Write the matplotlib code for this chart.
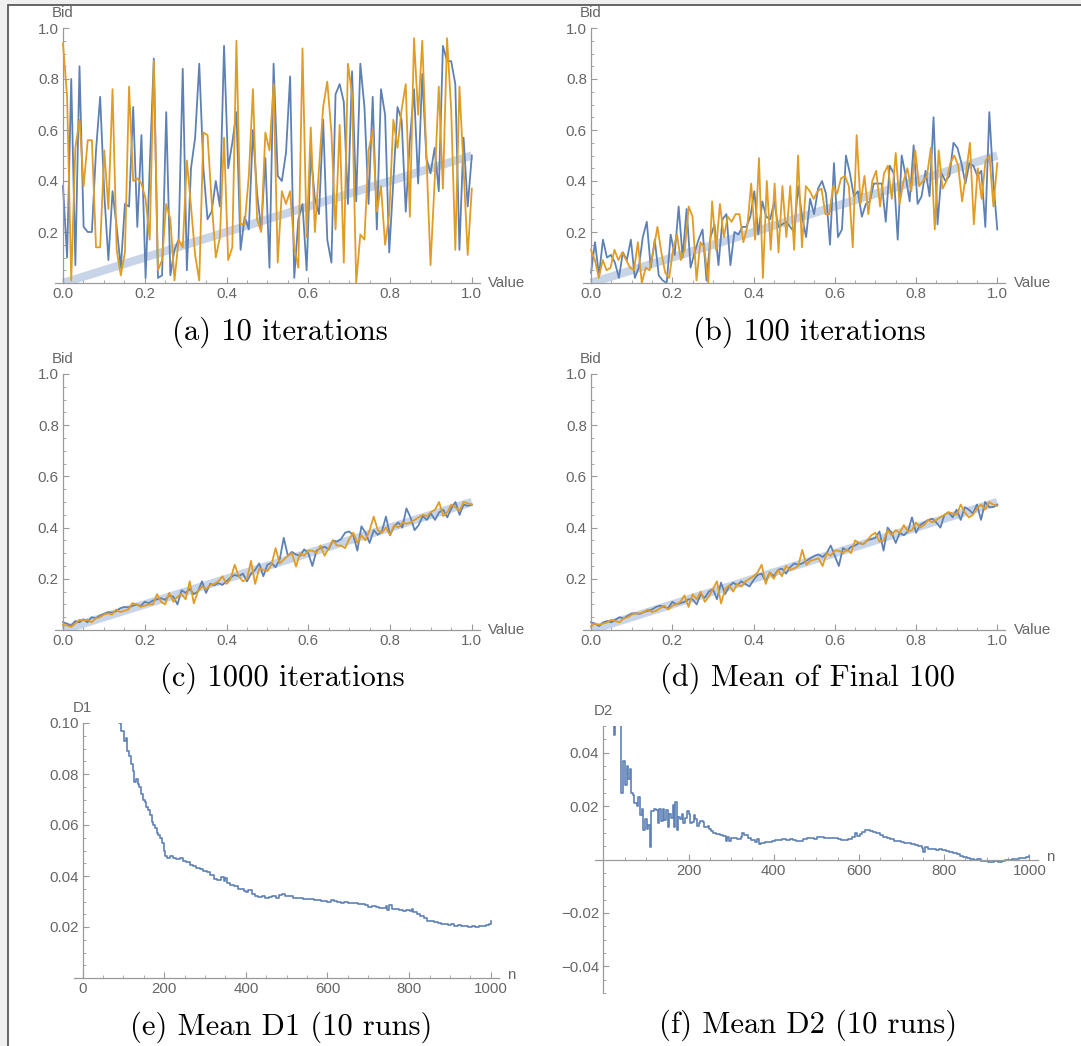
import numpy as np
import matplotlib
matplotlib.use('Agg')
import matplotlib.pyplot as plt
from matplotlib.patches import Rectangle
from matplotlib.ticker import MultipleLocator

# ---------------- data ----------------
# (a) 10 iterations
a_blue = [0.38, 0.10, 0.80, 0.07, 0.85, 0.22, 0.20, 0.20, 0.52, 0.73,
          0.35, 0.09, 0.36, 0.22, 0.06, 0.31, 0.30, 0.69, 0.22, 0.58,
          0.02, 0.45, 0.88, 0.02, 0.03, 0.67, 0.03, 0.13, 0.17, 0.84,
          0.05, 0.45, 0.57, 0.86, 0.45, 0.25, 0.28, 0.40, 0.30, 0.93,
          0.45, 0.55, 0.67, 0.13, 0.26, 0.21, 0.60, 0.35, 0.21, 0.49,
          0.06, 0.86, 0.42, 0.40, 0.51, 0.81, 0.02, 0.25, 0.31, 0.05,
          0.51, 0.33, 0.27, 0.64, 0.17, 0.08, 0.74, 0.78, 0.71, 0.31,
          0.83, 0.32, 0.86, 0.69, 0.31, 0.73, 0.21, 0.76, 0.66, 0.12,
          0.40, 0.69, 0.64, 0.28, 0.56, 0.76, 0.39, 0.82, 0.49, 0.43,
          0.53, 0.36, 0.93, 0.87, 0.87, 0.78, 0.13, 0.57, 0.30, 0.50]
a_orange = [0.94, 0.73, 0.01, 0.53, 0.64, 0.38, 0.56, 0.56, 0.14, 0.14,
            0.52, 0.29, 0.76, 0.13, 0.03, 0.12, 0.77, 0.40, 0.41, 0.39,
            0.33, 0.17, 0.87, 0.05, 0.09, 0.31, 0.25, 0.01, 0.17, 0.14,
            0.48, 0.30, 0.11, 0.01, 0.59, 0.58, 0.32, 0.10, 0.18, 0.57,
            0.09, 0.14, 0.95, 0.23, 0.23, 0.42, 0.76, 0.25, 0.20, 0.59,
            0.52, 0.78, 0.08, 0.36, 0.31, 0.36, 0.14, 0.06, 0.92, 0.18,
            0.61, 0.20, 0.45, 0.69, 0.79, 0.59, 0.21, 0.62, 0.08, 0.86,
            0.74, 0.00, 0.19, 0.17, 0.52, 0.60, 0.28, 0.38, 0.15, 0.27,
            0.64, 0.53, 0.68, 0.78, 0.26, 0.96, 0.66, 0.95, 0.50, 0.07,
            0.40, 0.77, 0.37, 0.96, 0.68, 0.13, 0.77, 0.45, 0.11, 0.37]

# (b) 100 iterations
b_blue = [0.04, 0.16, 0.03, 0.17, 0.10, 0.11, 0.08, 0.02, 0.12, 0.09,
          0.17, 0.02, 0.06, 0.18, 0.24, 0.06, 0.17, 0.03, 0.01, 0.00,
          0.19, 0.11, 0.30, 0.10, 0.29, 0.06, 0.12, 0.17, 0.21, 0.01,
          0.18, 0.23, 0.07, 0.25, 0.27, 0.07, 0.20, 0.19, 0.22, 0.22,
          0.26, 0.36, 0.19, 0.32, 0.26, 0.25, 0.32, 0.22, 0.23, 0.24,
          0.22, 0.20, 0.38, 0.26, 0.18, 0.33, 0.27, 0.37, 0.40, 0.35,
          0.15, 0.47, 0.18, 0.21, 0.50, 0.43, 0.34, 0.36, 0.26, 0.31,
          0.32, 0.39, 0.39, 0.39, 0.24, 0.46, 0.43, 0.17, 0.50, 0.42,
          0.32, 0.54, 0.31, 0.34, 0.44, 0.34, 0.65, 0.23, 0.43, 0.40,
          0.42, 0.55, 0.53, 0.47, 0.39, 0.47, 0.46, 0.42, 0.44, 0.22,
          0.67, 0.40, 0.21]
b_orange = [0.13, 0.09, 0.02, 0.09, 0.05, 0.06, 0.13, 0.09, 0.12, 0.09,
            0.06, 0.05, 0.16, 0.00, 0.06, 0.05, 0.13, 0.22, 0.12, 0.04,
            0.02, 0.13, 0.19, 0.09, 0.13, 0.30, 0.26, 0.01, 0.16, 0.14,
            0.00, 0.32, 0.13, 0.31, 0.18, 0.26, 0.24, 0.27, 0.27, 0.16,
            0.22, 0.39, 0.17, 0.49, 0.02, 0.40, 0.13, 0.39, 0.12, 0.38,
            0.18, 0.38, 0.13, 0.50, 0.14, 0.38, 0.36, 0.33, 0.36, 0.37,
            0.27, 0.27, 0.38, 0.35, 0.41, 0.42, 0.38, 0.14, 0.58, 0.31,
            0.42, 0.27, 0.40, 0.44, 0.30, 0.43, 0.46, 0.33, 0.51, 0.31,
            0.40, 0.45, 0.36, 0.52, 0.38, 0.40, 0.42, 0.53, 0.21, 0.52,
            0.37, 0.40, 0.47, 0.50, 0.46, 0.32, 0.43, 0.55, 0.23, 0.45,
            0.33, 0.48, 0.50, 0.30, 0.47]

# (c) 1000 iterations
c_blue = [0.030, 0.025, 0.017, 0.035, 0.030, 0.042, 0.030, 0.050, 0.046, 0.056,
          0.063, 0.070, 0.068, 0.073, 0.085, 0.090, 0.088, 0.094, 0.100, 0.094,
          0.110, 0.105, 0.115, 0.120, 0.124, 0.118, 0.135, 0.130, 0.100, 0.155,
          0.145, 0.160, 0.140, 0.150, 0.190, 0.145, 0.180, 0.175, 0.183, 0.176,
          0.190, 0.205, 0.215, 0.210, 0.220, 0.190, 0.220, 0.235, 0.260, 0.210,
          0.255, 0.262, 0.245, 0.275, 0.360, 0.290, 0.305, 0.295, 0.290, 0.315,
          0.300, 0.250, 0.310, 0.320, 0.325, 0.315, 0.350, 0.345, 0.355, 0.380,
          0.385, 0.370, 0.310, 0.405, 0.380, 0.340, 0.390, 0.372, 0.385, 0.443,
          0.370, 0.405, 0.420, 0.400, 0.475, 0.440, 0.390, 0.410, 0.445, 0.430,
          0.455, 0.430, 0.460, 0.470, 0.440, 0.475, 0.500, 0.450, 0.490, 0.485, 0.490]
c_orange = [0.020, 0.018, 0.012, 0.025, 0.040, 0.038, 0.040, 0.030, 0.045, 0.050,
            0.060, 0.065, 0.060, 0.080, 0.070, 0.075, 0.080, 0.105, 0.100, 0.090,
            0.095, 0.100, 0.100, 0.140, 0.110, 0.100, 0.145, 0.110, 0.130, 0.140,
            0.120, 0.190, 0.104, 0.150, 0.170, 0.160, 0.175, 0.180, 0.190, 0.210,
            0.180, 0.200, 0.255, 0.210, 0.190, 0.200, 0.270, 0.180, 0.240, 0.235,
            0.230, 0.255, 0.320, 0.260, 0.275, 0.290, 0.300, 0.248, 0.300, 0.290,
            0.310, 0.310, 0.300, 0.330, 0.290, 0.320, 0.350, 0.330, 0.330, 0.320,
            0.355, 0.380, 0.340, 0.370, 0.350, 0.390, 0.443, 0.390, 0.380, 0.400,
            0.370, 0.410, 0.400, 0.420, 0.415, 0.420, 0.430, 0.440, 0.450, 0.445,
            0.460, 0.470, 0.500, 0.445, 0.460, 0.490, 0.480, 0.465, 0.500, 0.495, 0.490]

# (d) mean of final 100
d_blue = [0.030, 0.025, 0.015, 0.030, 0.035, 0.030, 0.040, 0.050, 0.045, 0.055,
          0.065, 0.065, 0.063, 0.070, 0.075, 0.080, 0.090, 0.095, 0.090, 0.085,
          0.110, 0.100, 0.105, 0.110, 0.120, 0.120, 0.100, 0.140, 0.125, 0.150,
          0.160, 0.120, 0.185, 0.140, 0.170, 0.185, 0.175, 0.190, 0.180, 0.170,
          0.195, 0.215, 0.220, 0.190, 0.225, 0.210, 0.235, 0.240, 0.220, 0.245,
          0.260, 0.255, 0.260, 0.270, 0.280, 0.290, 0.295, 0.285, 0.300, 0.330,
          0.290, 0.250, 0.320, 0.310, 0.325, 0.330, 0.340, 0.335, 0.350, 0.355,
          0.360, 0.385, 0.310, 0.400, 0.380, 0.340, 0.380, 0.370, 0.385, 0.440,
          0.380, 0.410, 0.420, 0.430, 0.435, 0.420, 0.400, 0.450, 0.460, 0.440,
          0.470, 0.430, 0.480, 0.470, 0.455, 0.490, 0.430, 0.500, 0.480, 0.480, 0.490]
d_orange = [0.015, 0.025, 0.020, 0.025, 0.030, 0.040, 0.035, 0.030, 0.045, 0.050,
            0.060, 0.065, 0.065, 0.070, 0.080, 0.070, 0.075, 0.085, 0.095, 0.080,
            0.095, 0.100, 0.110, 0.135, 0.090, 0.140, 0.120, 0.150, 0.110, 0.130,
            0.160, 0.190, 0.104, 0.160, 0.175, 0.150, 0.180, 0.170, 0.190, 0.200,
            0.210, 0.225, 0.255, 0.180, 0.225, 0.200, 0.235, 0.210, 0.250, 0.235,
            0.240, 0.250, 0.313, 0.255, 0.270, 0.275, 0.280, 0.250, 0.300, 0.290,
            0.310, 0.310, 0.300, 0.315, 0.300, 0.350, 0.340, 0.335, 0.350, 0.370,
            0.380, 0.345, 0.350, 0.390, 0.370, 0.390, 0.380, 0.410, 0.385, 0.390,
            0.420, 0.400, 0.410, 0.430, 0.420, 0.430, 0.440, 0.450, 0.460, 0.455,
            0.450, 0.490, 0.460, 0.440, 0.450, 0.475, 0.490, 0.470, 0.500, 0.490, 0.485]

# (e) mean D1 over 10 runs
d1_n = [60, 89, 95, 101, 106, 110, 114, 118, 123, 127, 131, 135, 139, 143, 148, 152,
        156, 160, 165, 169, 173, 177, 182, 186, 190, 194, 199, 203, 208, 215, 222, 230,
        238, 245, 253, 262, 270, 278, 287, 295, 304, 312, 321, 330, 338, 346, 350, 354,
        362, 371, 380, 388, 396, 400, 405, 414, 422, 430, 439, 447, 456, 465, 473, 481,
        489, 497, 506, 515, 523, 532, 540, 549, 557, 566, 574, 583, 591, 600, 608, 616,
        624, 633, 641, 650, 658, 667, 675, 684, 692, 700, 709, 718, 726, 735, 743, 747,
        751, 759, 768, 776, 785, 793, 801, 806, 810, 819, 827, 836, 844, 852, 861, 870,
        878, 887, 895, 903, 911, 920, 928, 937, 945, 954, 962, 971, 979, 988, 996, 1000]
d1_val = [0.120, 0.100, 0.097, 0.093, 0.094, 0.089, 0.087, 0.084, 0.081, 0.077, 0.078,
          0.076, 0.075, 0.072, 0.070, 0.069, 0.067, 0.066, 0.064, 0.061, 0.060, 0.059,
          0.057, 0.056, 0.055, 0.053, 0.050, 0.048, 0.047, 0.048, 0.047, 0.0465, 0.0472,
          0.046, 0.0455, 0.0445, 0.044, 0.0432, 0.0428, 0.042, 0.0415, 0.0405, 0.039,
          0.0385, 0.0395, 0.038, 0.0392, 0.0372, 0.0365, 0.036, 0.035, 0.0348, 0.0342,
          0.0338, 0.0345, 0.033, 0.032, 0.0318, 0.032, 0.0315, 0.0318, 0.0322, 0.0315,
          0.0325, 0.0328, 0.0322, 0.032, 0.0315, 0.0312, 0.0312, 0.031, 0.0308, 0.0309,
          0.0306, 0.0305, 0.0303, 0.0302, 0.0298, 0.0305, 0.0302, 0.0298, 0.0296, 0.0297,
          0.0295, 0.0293, 0.0294, 0.029, 0.0289, 0.0285, 0.028, 0.0282, 0.0278, 0.0276,
          0.0274, 0.0282, 0.0268, 0.0285, 0.0272, 0.0269, 0.0268, 0.0264, 0.0266, 0.0262,
          0.0272, 0.0258, 0.025, 0.0245, 0.0235, 0.0225, 0.0222, 0.0218, 0.0214, 0.0212,
          0.021, 0.0208, 0.021, 0.0205, 0.0208, 0.0203, 0.0202, 0.0201, 0.0202, 0.0199,
          0.0203, 0.0202, 0.0206, 0.0212, 0.0225]

# (f) mean D2 over 10 runs
d2_n = [10, 24, 27, 42, 46, 50, 55, 59, 63, 65, 69, 73, 78, 82, 86, 90, 94, 98, 102,
        106, 109, 112, 118, 124, 128, 131, 135, 139, 143, 147, 151, 155, 160, 163, 166,
        169, 172, 176, 180, 184, 188, 192, 196, 200, 204, 208, 212, 216, 220, 224, 228,
        233, 237, 241, 245, 249, 253, 257, 265, 273, 281, 288, 290, 295, 300, 306, 314,
        322, 326, 331, 339, 347, 355, 360, 365, 371, 380, 388, 396, 404, 412, 420, 428,
        437, 445, 453, 461, 469, 477, 486, 494, 502, 510, 518, 527, 535, 543, 551, 559,
        567, 575, 584, 590, 596, 602, 608, 614, 620, 627, 633, 641, 649, 657, 665, 673,
        682, 690, 698, 706, 714, 722, 731, 739, 747, 751, 755, 763, 771, 780, 788, 796,
        804, 812, 820, 829, 837, 845, 853, 861, 869, 878, 886, 894, 902, 910, 918, 927,
        935, 943, 951, 959, 967, 976, 984, 992, 1000]
d2_val = [0.09, 0.0466, 0.08, 0.025, 0.037, 0.028, 0.035, 0.030, 0.034, 0.025, 0.024,
          0.021, 0.020, 0.0235, 0.0166, 0.019, 0.011, 0.015, 0.0116, 0.013, 0.0048,
          0.018, 0.019, 0.0185, 0.0135, 0.019, 0.0145, 0.019, 0.0148, 0.0185, 0.0123,
          0.017, 0.0155, 0.0204, 0.012, 0.0216, 0.011, 0.016, 0.015, 0.017, 0.0135,
          0.0154, 0.018, 0.017, 0.0135, 0.014, 0.0165, 0.015, 0.0125, 0.0135, 0.0145,
          0.014, 0.012, 0.012, 0.0125, 0.0116, 0.0105, 0.0098, 0.0095, 0.0091, 0.0088,
          0.0070, 0.0085, 0.0068, 0.0082, 0.008, 0.0078, 0.0085, 0.0098, 0.0092, 0.008,
          0.0072, 0.0066, 0.0078, 0.0058, 0.006, 0.0065, 0.0066, 0.007, 0.0073, 0.0072,
          0.0075, 0.0074, 0.0076, 0.0072, 0.007, 0.0068, 0.0076, 0.0079, 0.008, 0.0078,
          0.0085, 0.0083, 0.0081, 0.0082, 0.008, 0.0079, 0.0076, 0.0074, 0.0073, 0.0078,
          0.0085, 0.0098, 0.0088, 0.0095, 0.0104, 0.0112, 0.011, 0.0106, 0.0104, 0.0098,
          0.0091, 0.0086, 0.008, 0.0075, 0.007, 0.0068, 0.0066, 0.0063, 0.006, 0.0058,
          0.0054, 0.0052, 0.0044, 0.0028, 0.0045, 0.0041, 0.0038, 0.0037, 0.004, 0.0037,
          0.0033, 0.0029, 0.0024, 0.0019, 0.0014, 0.001, 0.0004, 0.0001, -0.0002, 0.0001,
          -0.0004, -0.0005, -0.0008, -0.0009, -0.0006, -0.0009, -0.0005, -0.0003, -0.0001,
          0.0001, 0.0002, 0.0004, 0.0006, 0.0008, 0.0014]

bid_ticks = [0.2, 0.4, 0.6, 0.8, 1.0]
bid_labels = ['0.2', '0.4', '0.6', '0.8', '1.0']
value_ticks = [0.0, 0.2, 0.4, 0.6, 0.8, 1.0]
value_labels = ['0.0', '0.2', '0.4', '0.6', '0.8', '1.0']
captions = ['(a) 10 iterations', '(b) 100 iterations', '(c) 1000 iterations',
            '(d) Mean of Final 100', '(e) Mean D1 (10 runs)', '(f) Mean D2 (10 runs)']

# ---------------- style ----------------
BLUE = '#5e81b5'
ORANGE = '#e19c24'
BAND = '#c8d5e8'
AXIS = '#9a9a9a'
LABEL = '#666666'
FS = 10.8
plt.rcParams['font.family'] = ['Liberation Sans', 'DejaVu Sans']

W, H = 1081, 1046
fig = plt.figure(figsize=(W / 100, H / 100), dpi=100)
fig.patch.set_facecolor('#f0f0f0')
fig.add_artist(Rectangle((8 / W, -0.05), 1.2, 1.05 - 5 / H, transform=fig.transFigure,
                         facecolor='white', edgecolor='#5a5a5a', lw=1.3, zorder=-10))


def make_axes(l, t, r, b):
    return fig.add_axes([l / W, 1 - b / H, (r - l) / W, (b - t) / H])


def style(ax):
    ax.patch.set_alpha(0)
    for s in ('top', 'right'):
        ax.spines[s].set_visible(False)
    for s in ('left', 'bottom'):
        ax.spines[s].set_position(('data', 0))
        ax.spines[s].set_color(AXIS)
        ax.spines[s].set_linewidth(0.9)
    ax.tick_params(which='both', direction='in', color=AXIS, labelcolor=LABEL,
                   labelsize=FS, pad=3)
    ax.tick_params(which='major', length=4, width=0.8)
    ax.tick_params(which='minor', length=2.2, width=0.6)


def axis_names(ax, ylab, xlab, xlab_dy=0):
    ax.annotate(ylab, xy=(0, 1), xycoords=('data', 'axes fraction'), xytext=(0, 11),
                textcoords='offset points', ha='center', va='center',
                color=LABEL, fontsize=FS)
    ax.annotate(xlab, xy=(1, 0), xycoords=('axes fraction', 'data'), xytext=(6, xlab_dy),
                textcoords='offset points', ha='left', va='center',
                color=LABEL, fontsize=FS)


def bid_panel(ax, blue, orange):
    ax.plot([0, 1], [0, 0.5], color=BAND, lw=6, solid_capstyle='butt', zorder=1)
    ax.plot(np.linspace(0, 1, len(blue)), blue, color=BLUE, lw=1.3, zorder=2)
    ax.plot(np.linspace(0, 1, len(orange)), orange, color=ORANGE, lw=1.3, zorder=3)
    ax.set_xlim(-0.02, 1.02)
    ax.set_ylim(0, 1)
    style(ax)
    ax.set_xticks(value_ticks)
    ax.set_xticklabels(value_labels)
    ax.set_yticks(bid_ticks)
    ax.set_yticklabels(bid_labels)
    ax.xaxis.set_minor_locator(MultipleLocator(0.05))
    ax.yaxis.set_minor_locator(MultipleLocator(0.05))
    axis_names(ax, 'Bid', 'Value')


ax_a = make_axes(54.8, 28, 480.0, 283)
bid_panel(ax_a, a_blue, a_orange)
ax_b = make_axes(582.9, 28, 1005.4, 283)
bid_panel(ax_b, b_blue, b_orange)
ax_c = make_axes(54.8, 374, 480.0, 630)
bid_panel(ax_c, c_blue, c_orange)
ax_d = make_axes(582.9, 374, 1005.4, 630)
bid_panel(ax_d, d_blue, d_orange)

# (e)
ax_e = make_axes(74.4, 723, 498.9, 978)
ax_e.plot(d1_n, d1_val, color=BLUE, lw=1.2, drawstyle='steps-post')
ax_e.set_xlim(-20, 1020)
ax_e.set_ylim(0, 0.10)
style(ax_e)
ax_e.set_xticks([0, 200, 400, 600, 800, 1000])
ax_e.set_xticklabels(['0', '200', '400', '600', '800', '1000'])
ax_e.set_yticks([0.02, 0.04, 0.06, 0.08, 0.10])
ax_e.set_yticklabels(['0.02', '0.04', '0.06', '0.08', '0.10'])
ax_e.xaxis.set_minor_locator(MultipleLocator(50))
ax_e.yaxis.set_minor_locator(MultipleLocator(0.005))
axis_names(ax_e, 'D1', 'n', xlab_dy=2)

# (f)
ax_f = make_axes(594.8, 726, 1037.9, 993)
ax_f.plot(d2_n, d2_val, color=BLUE, lw=1.2, drawstyle='steps-post')
ax_f.set_xlim(-20, 1020)
ax_f.set_ylim(-0.05, 0.05)
style(ax_f)
ax_f.set_xticks([200, 400, 600, 800, 1000])
ax_f.set_xticklabels(['200', '400', '600', '800', '1000'])
ax_f.set_yticks([-0.04, -0.02, 0.02, 0.04])
ax_f.set_yticklabels(['\u22120.04', '\u22120.02', '0.02', '0.04'])
ax_f.xaxis.set_minor_locator(MultipleLocator(50))
ax_f.yaxis.set_minor_locator(MultipleLocator(0.005))
axis_names(ax_f, 'D2', 'n', xlab_dy=2)

# captions
cap_pos = [(280, 332), (809, 332), (282, 678), (808, 678), (281, 1027), (808, 1025)]
for (cx, cy), txt in zip(cap_pos, captions):
    fig.text(cx / W, 1 - cy / H, txt, ha='center', va='center',
             family='cmr10', fontsize=22, color='black')

fig.savefig('out.png', dpi=100, facecolor=fig.get_facecolor())
